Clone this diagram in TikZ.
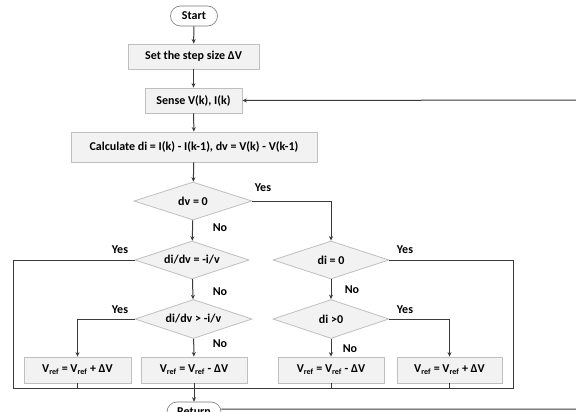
\documentclass[tikz,border=0pt]{standalone}
\usepackage{fontspec}
\setmainfont{Carlito}
\usepackage{tikz}
\usetikzlibrary{calc}
\usetikzlibrary{shapes}
\usetikzlibrary{arrows.meta}
\definecolor{boxfill}{HTML}{F2F2F2}
\definecolor{boxline}{HTML}{BFBFBF}
\definecolor{wire}{HTML}{3A3A3A}
\newcommand{\chartfont}{\fontsize{12}{14}\selectfont\bfseries}
\tikzset{
  proc/.style={shape=rectangle,draw=boxline,fill=boxfill,line width=0.8pt,inner sep=0pt,font=\chartfont},
  dec/.style={shape=diamond,aspect=3,draw=boxline,fill=boxfill,line width=0.8pt,inner sep=0pt,font=\chartfont},
  term/.style={shape=rounded rectangle,draw=wire!70,fill=white,line width=0.6pt,inner sep=0pt,font=\chartfont},
  wire/.style={draw=wire,line width=1pt},
  flow/.style={wire,-{Stealth[length=4.5pt,width=4pt]}},
  lbl/.style={font=\chartfont,inner sep=0pt}
}
\newcommand{\procnode}[6]{\node[proc,minimum width=#4pt,minimum height=#5pt] (#1) at ( #2 , #3 ) {#6};}
\newcommand{\decnode}[6]{\node[dec,minimum width=#4pt,minimum height=#5pt] (#1) at ( #2 , #3 ) {#6};}
\newcommand{\lablnode}[4]{\node[lbl] (#1) at ( #2 , #3 ) {#4};}
\newcommand{\vref}{V\textsubscript{ref}}

\begin{document}
\begin{tikzpicture}[x=1pt,y=-1pt]
        \useasboundingbox (0,0) rectangle (576,412);
        \clip (0,0) rectangle (576,412);
        % top column
        \node[term,minimum width=47pt,minimum height=20pt] (start) at (194,16) {Start};
        \procnode{step}{193.5}{56.5}{131}{25}{Set the step size ΔV}
        \procnode{sense}{193.5}{100.5}{97}{25}{Sense V(k), I(k)}
        \procnode{calc}{194}{147}{246}{30}{Calculate di = I(k) - I(k-1), dv = V(k) - V(k-1)}
        % decisions
        \decnode{dv}{193}{201}{118}{38}{dv = 0}
        \decnode{didv}{192}{260}{114}{38}{di/dv = -i/v}
        \decnode{dizero}{331}{260}{116}{38}{di = 0}
        \decnode{didvgt}{193.5}{319}{117}{39}{di/dv > -i/v}
        \decnode{dipos}{331}{319}{116}{39}{di >0}
        % update boxes
        \procnode{incA}{77.5}{370}{107}{26}{\vref{} = \vref{} + ΔV}
        \procnode{decA}{194}{370}{106}{26}{\vref{} = \vref{} - ΔV}
        \procnode{decB}{331}{370}{106}{26}{\vref{} = \vref{} - ΔV}
        \procnode{incB}{449.5}{370}{105}{26}{\vref{} = \vref{} + ΔV}
        \node[term,minimum width=54pt,minimum height=20pt] (return) at (194,412) {Return};
        % labels
        \lablnode{yesdv}{263}{188}{Yes}
        \lablnode{nodv}{220}{228}{No}
        \lablnode{yesdidv}{120}{250}{Yes}
        \lablnode{yesdizero}{405}{250}{Yes}
        \lablnode{nodidv}{220}{292}{No}
        \lablnode{nodizero}{352}{290}{No}
        \lablnode{yesdidvgt}{120}{310}{Yes}
        \lablnode{nodidvgt}{220}{344}{No}
        \lablnode{yesdipos}{405}{310}{Yes}
        \lablnode{nodipos}{350}{349}{No}
        % bus
        \coordinate (busL) at (13,388);
        \coordinate (busR) at (513,388);
        \coordinate (loopR) at (600,100);
        % connectors
        \draw[flow] (start) -- (step);
        \draw[flow] (step) -- (sense);
        \draw[flow] (sense) -- (calc);
        \draw[flow] (calc) -- (dv);
        \draw[flow] (dv) -- (didv);
        \draw[flow] (dv.east) -| (dizero.north);
        \draw[flow] (didv) -- (didvgt);
        \draw[flow] (dizero) -- (dipos);
        \draw[flow] (didvgt.west) -| (incA.north);
        \draw[flow] (didvgt) -- (decA);
        \draw[flow] (dipos) -- (decB);
        \draw[flow] (dipos.east) -| (incB.north);
        \draw[wire] (didv.west) -| (busL) -- (busR) |- (dizero.east);
        \draw[wire] (incA.south) -- (incA.south |- busL);
        \draw[wire] (decB.south) -- (decB.south |- busL);
        \draw[wire] (incB.south) -- (incB.south |- busL);
        \draw[flow] (decA.south) -- (return.north);
        \draw[flow] ($(return.east)+(0,-3)$) -- ($(loopR |- return.east)+(0,-3)$) -- (loopR) -- (sense.east);
\end{tikzpicture}
\end{document}
